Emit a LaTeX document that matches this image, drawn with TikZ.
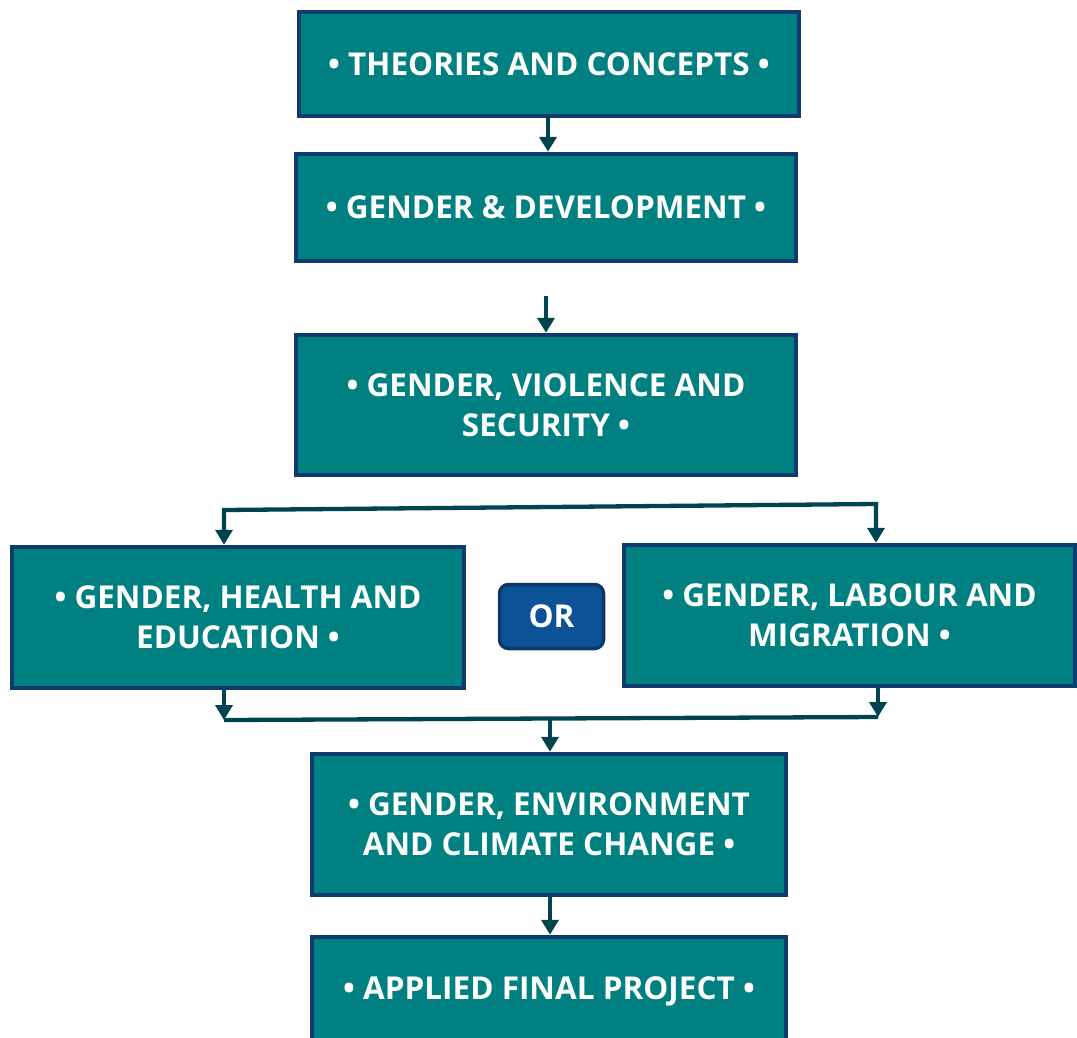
\documentclass[tikz,border=0pt]{standalone}
\usepackage{fontspec}
\setmainfont{Open Sans}
\usetikzlibrary{arrows.meta,calc}
\definecolor{tealfill}{RGB}{0,128,128}
\definecolor{boxborder}{RGB}{14,58,110}
\definecolor{arrowcol}{RGB}{0,68,80}
\definecolor{orfill}{RGB}{11,83,148}
\definecolor{orborder}{RGB}{12,55,105}
\tikzset{
  course/.style={draw=boxborder, line width=4.5pt, fill=tealfill, text=white,
    font=\fontsize{31.5}{40}\selectfont\bfseries, align=center, inner sep=0pt},
  orbox/.style={draw=orborder, line width=3.5pt, fill=orfill, text=white, rounded corners=9pt,
    font=\fontsize{31.5}{40}\selectfont\bfseries, inner sep=0pt},
  conn/.style={draw=arrowcol, line width=4.3pt, -{Triangle[length=15pt,width=17pt]}},
  connboth/.style={draw=arrowcol, line width=4.3pt, {Triangle[length=15pt,width=17pt]}-{Triangle[length=15pt,width=17pt]}},
  plain/.style={draw=arrowcol, line width=4.3pt}
}
\begin{document}
\begin{tikzpicture}[x=1pt,y=-1pt]
\useasboundingbox (0,0) rectangle (1077,1037);
\begin{scope}
\clip (0,0) rectangle (1077,1037);
\node[course, minimum width=500pt, minimum height=104pt] (b1) at (549,64) {• THEORIES AND CONCEPTS •};
\node[course, minimum width=500pt, minimum height=107pt] (b2) at (546,207.5) {• GENDER \& DEVELOPMENT •};
\node[course, minimum width=500pt, minimum height=140pt] (b3) at (546,405) {• GENDER, VIOLENCE AND\\SECURITY •};
\node[course, minimum width=452pt, minimum height=141pt] (b4) at (238,617.5) {• GENDER, HEALTH AND\\EDUCATION •};
\node[orbox, minimum width=104pt, minimum height=64pt] (or) at (551.5,616.5) {OR};
\node[course, minimum width=451pt, minimum height=141pt] (b6) at (849.5,615.5) {• GENDER, LABOUR AND\\MIGRATION •};
\node[course, minimum width=474pt, minimum height=141pt] (b7) at (549,824.5) {• GENDER, ENVIRONMENT\\AND CLIMATE CHANGE •};
\node[course, minimum width=474pt, minimum height=108pt] (b8) at (549,991) {• APPLIED FINAL PROJECT •};
\end{scope}
% connectors
\draw[conn] (b1.south -| 548,0) -- (b2.north -| 548,0);
\coordinate (free) at (546,296);
\draw[conn] (free) -- (free |- b3.north);
\coordinate (tl) at (224,510);
\coordinate (tr) at (876,504);
\draw[connboth] (tl |- b4.north) -- (tl) -- (tr) -- (tr |- b6.north);
\coordinate (bl) at (224,720);
\coordinate (br) at (878,717);
\draw[conn] (b4.south -| bl) -- (bl);
\draw[conn] (b6.south -| br) -- (br);
\draw[plain] (bl) -- (br);
\coordinate (bm) at (550,719);
\draw[conn] (bm) -- (bm |- b7.north);
\draw[conn] (b7.south -| 550,0) -- (b8.north -| 550,0);
\end{tikzpicture}
\end{document}
